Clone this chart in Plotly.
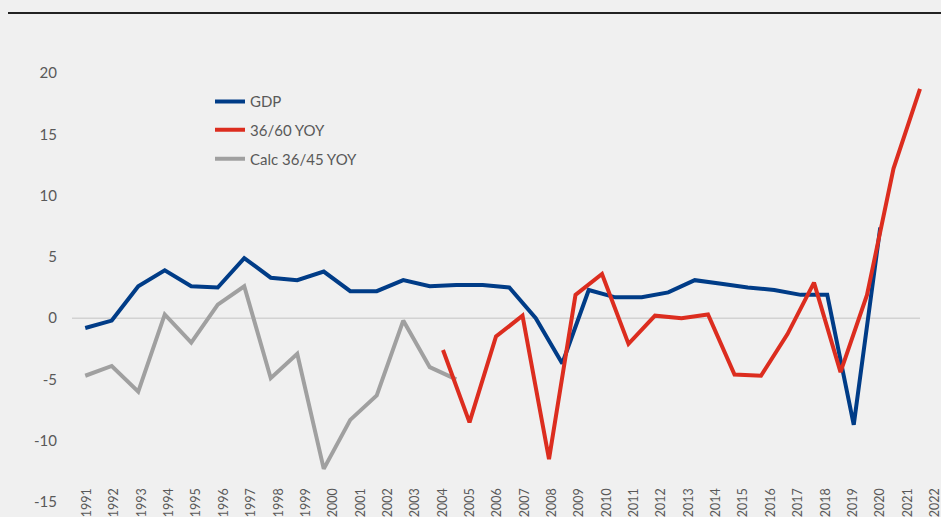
import plotly.graph_objects as go

# ── Data ──────────────────────────────────────────────────────────────
GDP_YEARS = list(range(1991, 2022))
GDP = [-0.8, -0.2, 2.6, 3.9, 2.6, 2.5, 4.9, 3.3, 3.1, 3.8,
       2.2, 2.2, 3.1, 2.6, 2.7, 2.7, 2.5, 0.0, -3.7, 2.3,
       1.7, 1.7, 2.1, 3.1, 2.8, 2.5, 2.3, 1.9, 1.9, -8.7, 7.4]

YOY_YEARS = list(range(2004, 2023))
YOY_36_60 = [-2.6, -8.5, -1.5, 0.2, -11.5, 1.9, 3.6, -2.1, 0.2, 0.0,
             0.3, -4.6, -4.7, -1.3, 2.9, -4.4, 1.9, 12.2, 18.7]

CALC_YEARS = list(range(1991, 2006))
CALC_36_45 = [-4.7, -3.9, -6.0, 0.3, -2.0, 1.1, 2.6, -4.9, -2.9, -12.3,
              -8.3, -6.3, -0.2, -4.0, -5.0]

LABEL_YEARS = list(range(1991, 2023))
Y_TICKS = [-15, -10, -5, 0, 5, 10, 15, 20]

# ── Styling ───────────────────────────────────────────────────────────
BG = "#f0f0f0"
TXT = "#595959"
BLUE = "#003c87"
RED = "#dc2d1f"
GREY = "#a0a0a0"
FONT = "Lato, Liberation Sans, sans-serif"

W, H = 941, 517
L, R, T, B = 72, 0, 73, 15
PLOT_W = W - L - R
PLOT_H = H - T - B
PX_DATA = 26.5     # px per year for GDP / calc series
PX_LABEL = 27.35   # px per year for the category labels

fig = go.Figure()

fig.add_trace(go.Scatter(
    x=GDP_YEARS, y=GDP, mode="lines", name="GDP",
    line=dict(color=BLUE, width=4), legend="legend",
))
fig.add_trace(go.Scatter(
    x=YOY_YEARS, y=YOY_36_60, mode="lines", name="36/60 YOY",
    line=dict(color=RED, width=4), xaxis="x2", legend="legend2",
))
fig.add_trace(go.Scatter(
    x=CALC_YEARS, y=CALC_36_45, mode="lines", name="Calc 36/45 YOY",
    line=dict(color=GREY, width=4), legend="legend3",
))
# carrier for the category label axis
fig.add_trace(go.Scatter(
    x=LABEL_YEARS, y=[None] * len(LABEL_YEARS), mode="lines",
    xaxis="x3", showlegend=False, hoverinfo="skip",
))

# zero line, limited to the plotted category span
fig.add_shape(type="line", xref="x", yref="y",
              x0=GDP_YEARS[0] - 0.5, x1=LABEL_YEARS[-1] + 0.5, y0=0, y1=0,
              line=dict(color="#d2d2d2", width=1.5), layer="below")

# rule across the top
rule_y = (PLOT_H + T - 13) / PLOT_H
fig.add_shape(type="line", xref="paper", yref="paper",
              x0=(8 - L) / PLOT_W, x1=1, y0=rule_y, y1=rule_y,
              line=dict(color="#222222", width=2))

hidden = dict(showgrid=False, zeroline=False, showticklabels=False,
              showline=False, ticks="")

x0 = GDP_YEARS[0] - 0.5
lab0 = LABEL_YEARS[0] - 15 / PX_LABEL

leg = dict(font=dict(family=FONT, size=15, color=TXT), bgcolor="rgba(0,0,0,0)",
           xanchor="left", yanchor="middle", itemwidth=30)

fig.update_layout(
    width=W, height=H,
    paper_bgcolor=BG, plot_bgcolor=BG,
    margin=dict(l=L, r=R, t=T, b=B),
    font=dict(family=FONT, color=TXT),
    xaxis=dict(range=[x0, x0 + PLOT_W / PX_DATA], **hidden),
    xaxis2=dict(overlaying="x", range=[x0 - 0.5, x0 - 0.5 + PLOT_W / PX_DATA], **hidden),
    xaxis3=dict(overlaying="x", anchor="free", position=0.04, side="bottom",
                range=[lab0, lab0 + PLOT_W / PX_LABEL],
                tickmode="array", tickvals=LABEL_YEARS,
                ticktext=[str(y) for y in LABEL_YEARS],
                ticklabeloverflow="allow",
                tickangle=-90, tickfont=dict(family=FONT, size=12.5, color=TXT),
                showgrid=False, zeroline=False, showline=False, ticks=""),
    yaxis=dict(range=[-15, 20], tickmode="array", tickvals=Y_TICKS,
               ticktext=[str(v) for v in Y_TICKS],
               showgrid=False, zeroline=False,
               showline=False, ticks="", ticklabelstandoff=14,
               tickfont=dict(family=FONT, size=15, color=TXT)),
    legend=dict(x=(210 - L) / PLOT_W, y=(PLOT_H + T - 101.7) / PLOT_H, **leg),
    legend2=dict(x=(210 - L) / PLOT_W, y=(PLOT_H + T - 130) / PLOT_H, **leg),
    legend3=dict(x=(210 - L) / PLOT_W, y=(PLOT_H + T - 159) / PLOT_H, **leg),
    hovermode=False,
)

fig.write_html(
    "out.html",
    config=dict(displayModeBar=False),
    post_script="document.body.style.margin='0';document.body.style.overflow='hidden';",
)
